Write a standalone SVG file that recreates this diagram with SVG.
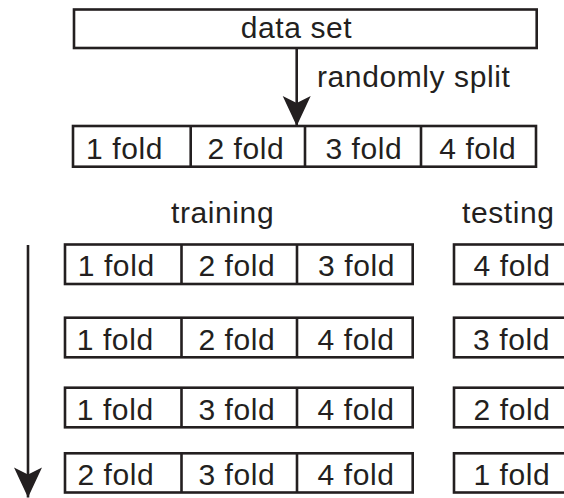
<svg xmlns="http://www.w3.org/2000/svg" width="564" height="498" viewBox="0 0 564 498">
  <style>
    .box { fill: #ffffff; stroke: #231f20; stroke-width: 2.6; }
    .div { stroke: #231f20; stroke-width: 2.6; fill: none; }
    .lbl { font-family: "Liberation Sans", Arial, Helvetica, sans-serif; font-size: 30px; letter-spacing: 0.6px; fill: #231f20; }
    .conn { stroke: #231f20; stroke-width: 2.6; fill: none; }
  </style>
  <defs>
    <marker id="head" markerUnits="userSpaceOnUse" viewBox="-31 -15 32 30" refX="0" refY="0" markerWidth="32" markerHeight="30" orient="auto">
      <path d="M0,0 L-30,-14 L-23,0 L-30,14 Z" fill="#231f20"/>
    </marker>
  </defs>

  <rect width="564" height="498" fill="#ffffff"/>

  <!-- whole data set -->
  <g id="data-set">
    <rect class="box" x="74" y="9.5" width="462.7" height="38.5"/>
    <text class="lbl" x="240.7" y="37.5">data set</text>
  </g>

  <!-- the four folds after splitting -->
  <g id="folds">
    <rect class="box" x="73" y="126" width="463" height="40.7"/>
    <path class="div" d="M190.7,126V166.7M305,126V166.7M421,126V166.7"/>
    <text class="lbl" x="86" y="159.3">1 fold</text>
    <text class="lbl" x="207.4" y="159.3">2 fold</text>
    <text class="lbl" x="325.4" y="159.3">3 fold</text>
    <text class="lbl" x="439.2" y="159.3">4 fold</text>
  </g>

  <!-- column headings -->
  <text id="training-label" class="lbl" x="171" y="222.7">training</text>
  <text id="testing-label" class="lbl" x="462" y="222.7">testing</text>
  <text id="split-label" class="lbl" x="317" y="87.3">randomly split</text>

  <!-- round 1 -->
  <g id="train-1">
    <rect class="box" x="65" y="244.5" width="347.7" height="39.5"/>
    <path class="div" d="M181.5,244.5V284M297,244.5V284"/>
    <text class="lbl" x="77.7" y="276.3">1 fold</text>
    <text class="lbl" x="198.4" y="276.3">2 fold</text>
    <text class="lbl" x="318" y="276.3">3 fold</text>
  </g>
  <g id="test-1">
    <rect class="box" x="454" y="244.5" width="116" height="39.5"/>
    <text class="lbl" x="473.5" y="276.3">4 fold</text>
  </g>

  <!-- round 2 -->
  <g id="train-2">
    <rect class="box" x="65" y="317.7" width="347.7" height="39.6"/>
    <path class="div" d="M181.5,317.7V357.3M297,317.7V357.3"/>
    <text class="lbl" x="76.7" y="349.6">1 fold</text>
    <text class="lbl" x="198.4" y="349.6">2 fold</text>
    <text class="lbl" x="317.5" y="349.6">4 fold</text>
  </g>
  <g id="test-2">
    <rect class="box" x="454" y="317.7" width="116" height="39.6"/>
    <text class="lbl" x="473" y="349.6">3 fold</text>
  </g>

  <!-- round 3 -->
  <g id="train-3">
    <rect class="box" x="65" y="387.7" width="347.7" height="39.6"/>
    <path class="div" d="M181.5,387.7V427.3M297,387.7V427.3"/>
    <text class="lbl" x="76.7" y="419.6">1 fold</text>
    <text class="lbl" x="198.4" y="419.6">3 fold</text>
    <text class="lbl" x="317.5" y="419.6">4 fold</text>
  </g>
  <g id="test-3">
    <rect class="box" x="454" y="387.7" width="116" height="39.6"/>
    <text class="lbl" x="473.5" y="419.6">2 fold</text>
  </g>

  <!-- round 4 -->
  <g id="train-4">
    <rect class="box" x="65" y="453.3" width="347.7" height="39.2"/>
    <path class="div" d="M181.5,453.3V492.5M297,453.3V492.5"/>
    <text class="lbl" x="77.4" y="485">2 fold</text>
    <text class="lbl" x="198.4" y="485">3 fold</text>
    <text class="lbl" x="317.5" y="485">4 fold</text>
  </g>
  <g id="test-4">
    <rect class="box" x="454" y="453.3" width="116" height="39.2"/>
    <text class="lbl" x="473.4" y="485">1 fold</text>
  </g>

  <!-- connectors -->
  <g id="connectors">
    <line class="conn" x1="296.7" y1="48" x2="296.7" y2="126" marker-end="url(#head)"/>
    <line class="conn" x1="28" y1="245" x2="28" y2="497.5" marker-end="url(#head)"/>
  </g>
</svg>
